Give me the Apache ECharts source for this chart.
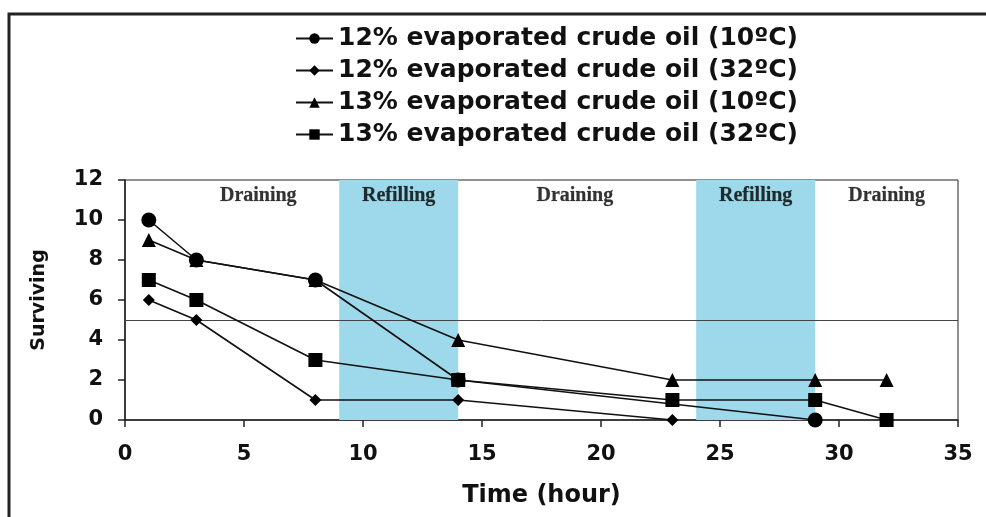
<!DOCTYPE html>
<html>
<head>
<meta charset="utf-8">
<script src="https://cdn.jsdelivr.net/npm/echarts@6/dist/echarts.min.js"></script>
<style>
  html, body { margin: 0; padding: 0; background: #fff; }
  #chart { width: 986px; height: 517px; }
</style>
</head>
<body>
<div id="chart"></div>
<script>
// Survival counts over time for each oil / temperature treatment
const seriesNames = [
  '12% evaporated crude oil (10ºC)',
  '12% evaporated crude oil (32ºC)',
  '13% evaporated crude oil (10ºC)',
  '13% evaporated crude oil (32ºC)'
];
const oil12At10 = [[1, 10], [3, 8], [8, 7], [14, 2], [29, 0]];
const oil12At32 = [[1, 6], [3, 5], [8, 1], [14, 1], [23, 0]];
const oil13At10 = [[1, 9], [3, 8], [8, 7], [14, 4], [23, 2], [29, 2], [32, 2]];
const oil13At32 = [[1, 7], [3, 6], [8, 3], [14, 2], [23, 1], [29, 1], [32, 0]];

// Tank phases (hours) and their captions
const phaseNames = ['Draining', 'Refilling', 'Draining', 'Refilling', 'Draining'];
const phaseStart = [0, 9, 14, 24, 29];
const phaseEnd = [9, 14, 24, 29, 35];
const phaseCaptionAt = [5.6, 11.5, 18.9, 26.5, 32.0];
const phaseFilled = [false, true, false, true, false];
const thresholdLevel = 5;

const sansFont = 'DejaVu Sans';
const serifFont = 'Liberation Serif';

const chart = echarts.init(document.getElementById('chart'));

const symbols = ['circle', 'diamond', 'triangle', 'rect'];
const symbolSizes = [15, 12, 14, 14];
const datasets = [oil12At10, oil12At32, oil13At10, oil13At32];

const series = datasets.map((d, i) => ({
  name: seriesNames[i],
  type: 'line',
  data: d,
  symbol: symbols[i],
  symbolSize: symbolSizes[i],
  showAllSymbol: true,
  lineStyle: { color: '#111', width: 1.6 },
  itemStyle: { color: '#000', borderColor: '#000', borderWidth: 0 },
  z: 5
}));

// Phase shading and the survival threshold, carried by an empty helper series
series.push({
  name: 'phases',
  type: 'line',
  data: [],
  silent: true,
  markArea: {
    silent: true,
    data: phaseNames.map((n, i) => [
      { xAxis: phaseStart[i], yAxis: 0, itemStyle: { color: phaseFilled[i] ? '#9dd9ea' : 'rgba(0,0,0,0)' } },
      { xAxis: phaseEnd[i], yAxis: 12 }
    ]),
    label: { show: false }
  },
  markLine: {
    silent: true,
    symbol: 'none',
    lineStyle: { color: '#444', width: 1, type: 'solid' },
    label: { show: false },
    data: [{ yAxis: thresholdLevel }]
  },
  z: 1
});

// Phase captions along the top of the plot
series.push({
  name: 'captions',
  type: 'scatter',
  data: phaseCaptionAt.map(x => [x, 12]),
  symbolSize: 0,
  silent: true,
  label: {
    show: true,
    position: [0, 6],
    align: 'center',
    verticalAlign: 'top',
    formatter: params => phaseNames[params.dataIndex],
    fontFamily: serifFont,
    fontWeight: 'bold',
    fontSize: 20,
    color: '#000',
    textBorderColor: 'rgba(0,0,0,0.35)',
    textBorderWidth: 0.6
  },
  z: 3
});

const tickFont = { fontFamily: sansFont, fontSize: 21, fontWeight: 'bold', color: '#111' };

chart.setOption({
  animation: false,
  backgroundColor: '#fff',
  graphic: [{
    type: 'rect',
    shape: { x: 9, y: 14, width: 1000, height: 600 },
    style: { fill: 'none', stroke: '#222', lineWidth: 3 },
    silent: true,
    z: 0
  }],
  legend: {
    data: seriesNames,
    orient: 'vertical',
    left: 290,
    top: 21,
    itemWidth: 37,
    itemHeight: 13,
    itemGap: 7,
    textStyle: {
      fontFamily: sansFont,
      fontSize: 25,
      fontWeight: 'bold',
      color: '#111'
    }
  },
  grid: {
    left: 125,
    right: 28,
    top: 180,
    bottom: 97,
    show: true,
    borderColor: '#222',
    borderWidth: 1,
    containLabel: false
  },
  xAxis: {
    type: 'value',
    min: 0,
    max: 35,
    interval: 5,
    name: 'Time (hour)',
    nameLocation: 'middle',
    nameGap: 64,
    nameTextStyle: { fontFamily: sansFont, fontSize: 24, fontWeight: 'bold', color: '#111' },
    axisLine: { lineStyle: { color: '#222', width: 1.5 } },
    axisTick: { show: true, inside: false, length: 7, lineStyle: { color: '#222', width: 1.5 } },
    axisLabel: Object.assign({ margin: 24 }, tickFont),
    splitLine: { show: false }
  },
  yAxis: {
    type: 'value',
    min: 0,
    max: 12,
    interval: 2,
    name: 'Surviving',
    nameLocation: 'middle',
    nameGap: 76,
    nameRotate: 90,
    nameTextStyle: { fontFamily: sansFont, fontSize: 19, fontWeight: 'bold', color: '#111' },
    axisLine: { show: true, lineStyle: { color: '#222', width: 1.5 } },
    axisTick: { show: true, inside: false, length: 7, lineStyle: { color: '#222', width: 1.5 } },
    axisLabel: Object.assign({ margin: 22 }, tickFont),
    splitLine: { show: false }
  },
  series: series
});
</script>
</body>
</html>
